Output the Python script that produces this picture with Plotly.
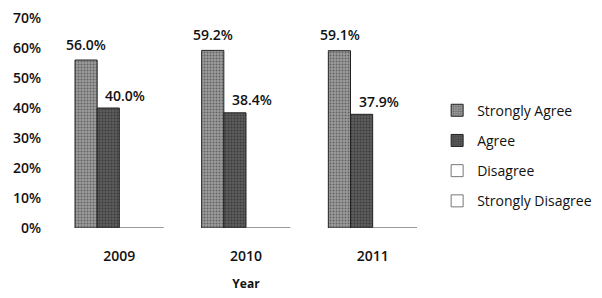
import plotly.graph_objects as go

years = ["2009", "2010", "2011"]
series_names = ["Strongly Agree", "Agree", "Disagree", "Strongly Disagree"]
strongly_agree = [0.560, 0.592, 0.591]
agree = [0.400, 0.384, 0.379]
disagree = [0.0, 0.0, 0.0]
strongly_disagree = [0.0, 0.0, 0.0]
y_ticks = [0, 0.1, 0.2, 0.3, 0.4, 0.5, 0.6, 0.7]
y_tick_labels = ["0%", "10%", "20%", "30%", "40%", "50%", "60%", "70%"]

values = [strongly_agree, agree, disagree, strongly_disagree]
fills = ["#9c9c9c", "#5c5c5c", "#ffffff", "#ffffff"]
pat_shapes = [".", ".", "", ""]
pat_fg = ["#2a2a2a", "#1a1a1a", "#000000", "#000000"]
line_cols = ["#222222", "#222222", "#777777", "#777777"]
font = "Open Sans, Liberation Sans, sans-serif"

fig = go.Figure()
for i, (name, vals) in enumerate(zip(series_names, values)):
    fig.add_trace(go.Bar(
        x=list(years), y=list(vals), name=name, legendgroup=name,
        marker=dict(color=fills[i], line=dict(color=line_cols[i], width=1),
                    pattern=dict(shape=pat_shapes[i], fgcolor=pat_fg[i],
                                 size=3, solidity=0.35)),
    ))

bar_px = 22
label_cfg = {0: (-1.5 * bar_px, 16), 1: (-0.5 * bar_px + 17, 13)}
for si, (xs, ys) in label_cfg.items():
    for idx, v in enumerate(values[si]):
        fig.add_annotation(x=idx, y=v, xref="x", yref="y", text=f"{v*100:.1f}%",
                           showarrow=False, xshift=xs, yshift=ys,
                           xanchor="center", yanchor="middle",
                           font=dict(family=font, size=14, color="#111", weight=600))

fig.update_layout(
    width=594, height=290,
    margin=dict(l=48, r=166, t=10, b=70, autoexpand=False),
    paper_bgcolor="white", plot_bgcolor="white",
    barmode="group", bargap=0.3, bargroupgap=0,
    font=dict(family=font, size=14, color="#111"),
    showlegend=True,
    legend=dict(x=1.003, y=0.635, xanchor="left", yanchor="top",
                font=dict(family=font, size=14), tracegroupgap=9,
                itemwidth=30, bgcolor="rgba(0,0,0,0)"),
    xaxis=dict(type="category", categoryorder="array", categoryarray=years,
               range=[-0.5, 2.5], automargin=False,
               showline=False, showgrid=False, ticks="outside", ticklen=15,
               tickcolor="white", tickfont=dict(size=14, weight=600),
               title=dict(text="<b>Year</b>", font=dict(size=12), standoff=15)),
    yaxis=dict(range=[0, 0.7], tickvals=y_ticks, ticktext=y_tick_labels,
               automargin=False,
               showgrid=False, showline=False, zeroline=False,
               ticks="outside", ticklen=11, tickcolor="white",
               ticklabeloverflow="allow",
               tickfont=dict(size=14, weight=600)),
)

fig.write_html("out.html")
